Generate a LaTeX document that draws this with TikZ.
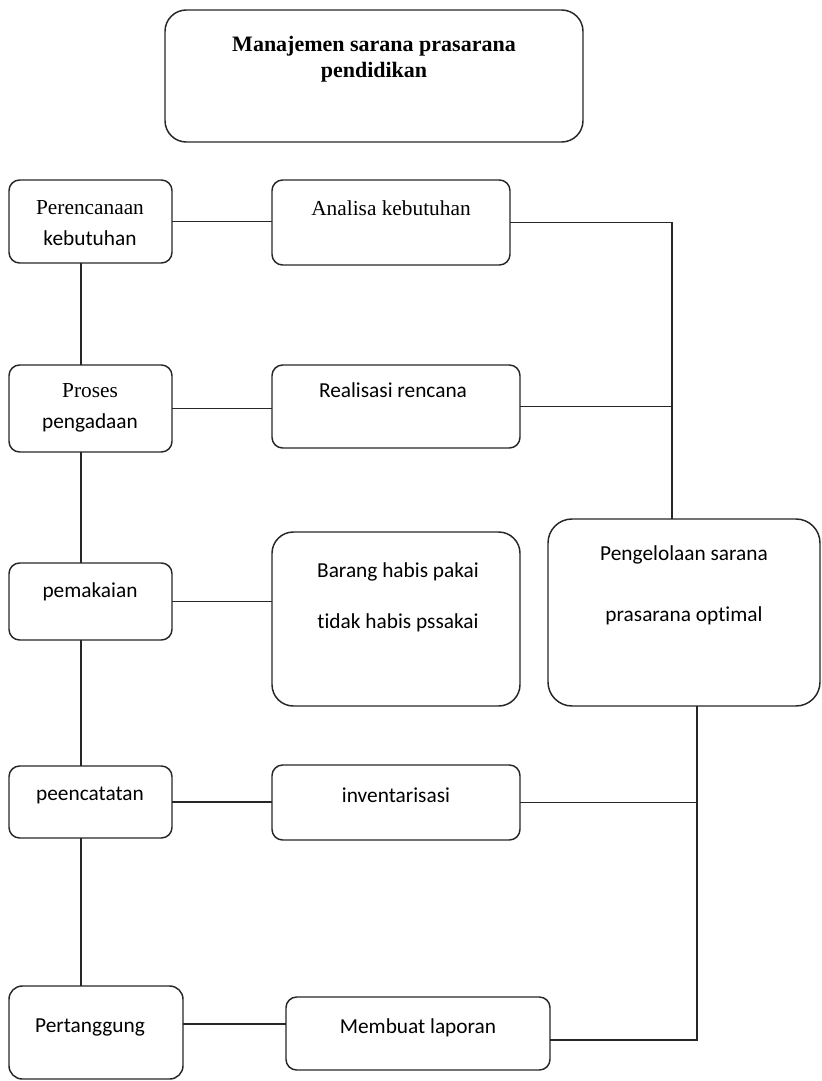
\documentclass[tikz,border=0pt]{standalone}
\usepackage{fontspec}
\setmainfont{Liberation Serif}
\newfontfamily\calfont[Ligatures=NoCommon]{Carlito}
\begin{document}
\begin{tikzpicture}[x=0.75pt,y=-0.75pt,
  box/.style={draw=black!85, line width=1.1pt, fill=none, inner sep=0pt, outer sep=0pt},
  ln/.style={draw=black!85, line width=1.1pt},
  sf/.style={anchor=base, inner sep=0pt, font=\calfont\fontsize{16}{19}\selectfont},
  rm/.style={anchor=base, inner sep=0pt, font=\fontsize{16}{19}\selectfont},
  tb/.style={anchor=base, inner sep=0pt, font=\bfseries\fontsize{16.5}{19}\selectfont}]
\useasboundingbox (0,0) rectangle (821,1081);
% boxes
\node[box, rounded corners=16pt, minimum width={418*0.75pt}, minimum height={132*0.75pt}] (title) at (374,76) {};
\node[box, rounded corners=8pt, minimum width={163*0.75pt}, minimum height={83*0.75pt}] (per) at (90.5,221.5) {};
\node[box, rounded corners=8pt, minimum width={238*0.75pt}, minimum height={85*0.75pt}] (ana) at (391,222.5) {};
\node[box, rounded corners=8pt, minimum width={163*0.75pt}, minimum height={87*0.75pt}] (pro) at (90.5,408.5) {};
\node[box, rounded corners=8pt, minimum width={248*0.75pt}, minimum height={83*0.75pt}] (rea) at (396,406.5) {};
\node[box, rounded corners=8pt, minimum width={163*0.75pt}, minimum height={77*0.75pt}] (pem) at (90.5,601.5) {};
\node[box, rounded corners=16pt, minimum width={248*0.75pt}, minimum height={174*0.75pt}] (bar) at (396,619) {};
\node[box, rounded corners=18pt, minimum width={272*0.75pt}, minimum height={187*0.75pt}] (peng) at (684,612.5) {};
\node[box, rounded corners=8pt, minimum width={163*0.75pt}, minimum height={72*0.75pt}] (pee) at (90.5,802) {};
\node[box, rounded corners=8pt, minimum width={248*0.75pt}, minimum height={75*0.75pt}] (inv) at (396,802.5) {};
\node[box, rounded corners=10pt, minimum width={174*0.75pt}, minimum height={93*0.75pt}] (pert) at (96,1032.5) {};
\node[box, rounded corners=8pt, minimum width={264*0.75pt}, minimum height={73*0.75pt}] (mem) at (418,1033.5) {};
% texts
\node[tb] (titleA) at (374,52) {Manajemen sarana prasarana};
\node[tb] (titleB) at (374,78) {pendidikan};
\node[rm] (perA) at (90,214) {Perencanaan};
\node[sf] (perB) at (90,245) {kebutuhan};
\node[rm] (anaA) at (391,215) {Analisa kebutuhan};
\node[rm] (proA) at (90,397) {Proses};
\node[sf] (proB) at (90,428) {pengadaan};
\node[sf] (reaA) at (393,397) {Realisasi rencana};
\node[sf] (pemA) at (90,597) {pemakaian};
\node[sf] (barA) at (398,577) {Barang habis pakai};
\node[sf] (barB) at (398,628) {tidak habis pssakai};
\node[sf] (pengA) at (684,560) {Pengelolaan sarana};
\node[sf] (pengB) at (684,621) {prasarana optimal};
\node[sf] (peeA) at (90,800) {peencatatan};
\node[sf] (invA) at (396,802) {inventarisasi};
\node[sf] (pertA) at (90,1032) {Pertanggung};
\node[sf] (memA) at (418,1033) {Membuat laporan};
% junction coordinates
\coordinate (jA) at (672,0);
\coordinate (jL) at (81,0);
\coordinate (jM) at (697,1040);
\coordinate (jP) at (0,1024);
% connectors left column
\draw[ln] (per.south -| jL) -- (pro.north -| jL);
\draw[ln] (pro.south -| jL) -- (pem.north -| jL);
\draw[ln] (pem.south -| jL) -- (pee.north -| jL);
\draw[ln] (pee.south -| jL) -- (pert.north -| jL);
% horizontal connectors
\draw[ln] (per.east) -- (per.east -| ana.west);
\draw[ln] (pro.east) -- (pro.east -| rea.west);
\draw[ln] (pem.east) -- (pem.east -| bar.west);
\draw[ln] (pee.east) -- (pee.east -| inv.west);
\draw[ln] (pert.east |- jP) -- (mem.west |- jP);
% right connectors
\draw[ln] (ana.east) -- (ana.east -| jA) -- (jA |- peng.north);
\draw[ln] (rea.east) -- (rea.east -| jA);
\draw[ln] (peng.south -| jM) -- (jM) -- (jM -| mem.east);
\draw[ln] (inv.east) -- (inv.east -| jM);
\end{tikzpicture}
\end{document}
